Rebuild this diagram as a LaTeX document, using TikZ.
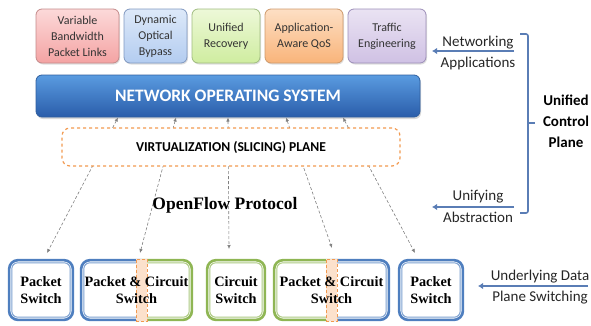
\documentclass[tikz,border=0pt]{standalone}
\usepackage{fontspec}
\setmainfont{Carlito}
\newfontfamily\tnr{Liberation Serif}
\usetikzlibrary{arrows.meta,shadows,calc}
\pgfdeclarelayer{bg}
\pgfsetlayers{bg,main}
\definecolor{rTop}{HTML}{FCD9D9}\definecolor{rBot}{HTML}{F4A3A3}\definecolor{rDr}{HTML}{C48A8A}
\definecolor{bTop}{HTML}{DDE9F9}\definecolor{bBot}{HTML}{B3CCF0}\definecolor{bDr}{HTML}{8098C0}
\definecolor{gTop}{HTML}{EDF8D8}\definecolor{gBot}{HTML}{CFEDA0}\definecolor{gDr}{HTML}{A0BC80}
\definecolor{oTop}{HTML}{FDDFC4}\definecolor{oBot}{HTML}{F9B47A}\definecolor{oDr}{HTML}{CE9A6C}
\definecolor{pTop}{HTML}{EAE3F3}\definecolor{pBot}{HTML}{CFC1E4}\definecolor{pDr}{HTML}{9C8EB8}
\definecolor{nosTop}{HTML}{5A9BE0}\definecolor{nosBot}{HTML}{2A5DAA}\definecolor{nosDr}{HTML}{2F5E9E}
\definecolor{vOr}{HTML}{F29A50}
\definecolor{swBlue}{HTML}{4F7FBF}\definecolor{swGreen}{HTML}{8FB654}
\definecolor{stripF}{HTML}{FCE1CC}
\definecolor{arrB}{HTML}{5A7DB5}
\newcommand\swborder[3]{% node, color, clip box
  \begin{scope}
    \clip #3;
    \draw[#2, line width=2.6pt, rounded corners=9pt]
      ($(#1.north west)+(1.3,1.3)$) rectangle ($(#1.south east)+(-1.3,-1.3)$);
    \draw[#2!75, line width=1pt, rounded corners=6pt]
      ($(#1.north west)+(4,4)$) rectangle ($(#1.south east)+(-4,-4)$);
  \end{scope}}
\begin{document}
\begin{tikzpicture}[x=1pt,y=-1pt,
  appbox/.style={rounded corners=6pt, line width=0.8pt, align=center,
    font=\fontsize{12}{16}\selectfont, text=black!80, inner sep=0pt,
    minimum height=54pt,
    drop shadow={opacity=0.25,shadow xshift=1pt,shadow yshift=-1.5pt}},
  swnode/.style={align=center, inner sep=0pt, minimum height=62pt,
    font=\tnr\bfseries\fontsize{14.3}{17.5}\selectfont},
  ofarrow/.style={densely dashed, gray, line width=0.6pt,
    {Latex[length=4pt,width=3.5pt]}-{Latex[length=4pt,width=3.5pt]}},
  rtext/.style={font=\fontsize{15}{18}\selectfont, text=black!85, inner sep=0pt},
  sidearrow/.style={arrB, line width=1.8pt, -{Latex[length=5pt,width=6.5pt]}},
  stripbox/.style={fill=stripF, draw=vOr, densely dashed, line width=0.6pt,
    minimum height=62pt, inner sep=0pt}
]
\useasboundingbox (0,0) rectangle (591,325);

% application boxes
\node[appbox, top color=rTop, bottom color=rBot, draw=rDr, minimum width=83pt] (a1) at (77.5,36) {Variable\\Bandwidth\\Packet Links};
\node[appbox, top color=bTop, bottom color=bBot, draw=bDr, minimum width=63pt] (a2) at (155.5,36) {Dynamic\\Optical\\Bypass};
\node[appbox, top color=gTop, bottom color=gBot, draw=gDr, minimum width=68pt] (a3) at (226,36) {Unified\\Recovery};
\node[appbox, top color=oTop, bottom color=oBot, draw=oDr, minimum width=78pt] (a4) at (304,36) {Application-\\Aware QoS};
\node[appbox, top color=pTop, bottom color=pBot, draw=pDr, minimum width=78pt] (a5) at (387,36) {Traffic\\Engineering};

% network operating system
\node[draw=nosDr, line width=0.8pt, top color=nosTop, bottom color=nosBot, rounded corners=6pt,
  minimum width=384pt, minimum height=42pt, inner sep=0pt,
  font=\bfseries\fontsize{17.5}{19}\selectfont, text=white,
  drop shadow={opacity=0.3,shadow xshift=1pt,shadow yshift=-2pt}] (nos) at (228,96) {NETWORK OPERATING SYSTEM};

% virtualization plane
\node[draw=vOr, dashed, line width=1.2pt, rounded corners=8pt, fill=white,
  minimum width=338pt, minimum height=38pt, inner sep=0pt,
  font=\bfseries\fontsize{13.6}{15}\selectfont] (virt) at (231,147) {VIRTUALIZATION (SLICING) PLANE};

% switches
\node[swnode, minimum width=66pt] (s1) at (41,290) {Packet\\Switch};
\coordinate (st2) at (141.5,290);
\coordinate (s2) at (136.5,290);
\node[swnode, minimum width=60pt] (s3) at (236,290) {Circuit\\Switch};
\coordinate (st4) at (331.5,290);
\node[swnode, minimum width=66pt] (s5) at (431,290) {Packet\\Switch};

\begin{pgfonlayer}{bg}
  \node[swnode, minimum width=113pt] (s2b) at (s2) {};
  \node[swnode, minimum width=117pt] (s4b) at (st4) {};
  \swborder{s1}{swBlue}{(0,250) rectangle (591,325)}
  \swborder{s2b}{swBlue}{(0,250) rectangle (141.5,325)}
  \swborder{s2b}{swGreen}{(141.5,250) rectangle (591,325)}
  \swborder{s3}{swGreen}{(0,250) rectangle (591,325)}
  \swborder{s4b}{swGreen}{(0,250) rectangle (331.5,325)}
  \swborder{s4b}{swBlue}{(331.5,250) rectangle (591,325)}
  \swborder{s5}{swBlue}{(0,250) rectangle (591,325)}
  % OpenFlow connectors (behind the virtualization plane)
  \coordinate (t1) at (118,117.5); \coordinate (b1) at (47,253);
  \coordinate (t2) at (176,117.5); \coordinate (b2) at (140,253);
  \coordinate (t3) at (228,117.5); \coordinate (b3) at (229,249);
  \coordinate (t4) at (286,117.5); \coordinate (b4) at (332,248);
  \coordinate (t5) at (343,117.5); \coordinate (b5) at (415,253);
  \draw[ofarrow] (t1) -- (b1);
  \draw[ofarrow] (t2) -- (b2);
  \draw[ofarrow] (t3) -- (b3);
  \draw[ofarrow] (t4) -- (b4);
  \draw[ofarrow] (t5) -- (b5);
\end{pgfonlayer}
% strips above borders, then the labels
\node[stripbox, minimum width=11pt] (strip2) at (st2) {};
\node[stripbox, minimum width=11pt] (strip4) at (st4) {};
\node[swnode, minimum width=113pt] (s2t) at (s2) {Packet \& Circuit\\Switch};
\node[swnode, minimum width=117pt] (s4t) at (st4) {Packet \& Circuit\\Switch};

% OpenFlow label
\node[font=\tnr\bfseries\fontsize{17.5}{20}\selectfont, inner sep=0pt] (of) at (225,205) {OpenFlow Protocol};

% right side labels
\node[rtext] (na) at (478,43) {Networking};
\node[rtext] (nb) at (478,63) {Applications};
\node[rtext] (ua) at (478,197) {Unifying};
\node[rtext] (ub) at (478,217) {Abstraction};
\node[rtext] (da) at (540,277) {Underlying Data};
\node[rtext] (db) at (540,298) {Plane Switching};
\node[font=\bfseries\fontsize{15}{21}\selectfont, align=center, inner sep=0pt] (ucp) at (566,121) {Unified\\Control\\Plane};

\coordinate (ar1) at (514,51); \coordinate (al1) at (432,51);
\coordinate (ar2) at (514,207); \coordinate (al2) at (432,207);
\coordinate (ar3) at (588,286); \coordinate (al3) at (478,286);
\draw[sidearrow] (ar1) -- (al1);
\draw[sidearrow] (ar2) -- (al2);
\draw[sidearrow] (ar3) -- (al3);

% bracket
\draw[arrB, line width=1.6pt, rounded corners=2pt] (520,34) -- (528,34) -- (528,213) -- (520,213);
\draw[arrB, line width=1.6pt] (528,123) -- (535,123);
\end{tikzpicture}
\end{document}
